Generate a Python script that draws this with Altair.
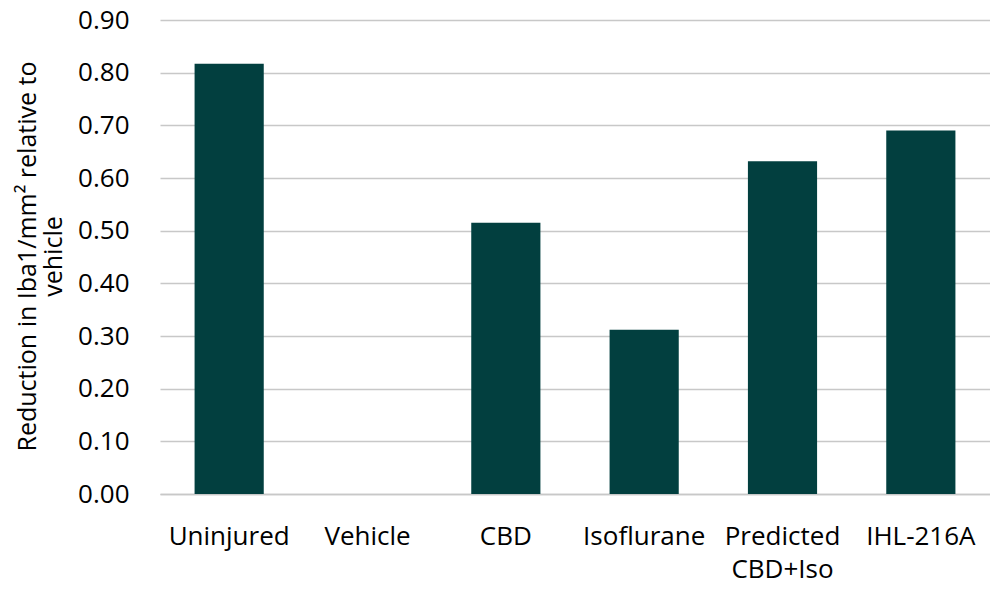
import altair as alt
import pandas as pd

categories = ["Uninjured", "Vehicle", "CBD", "Isoflurane", "Predicted\nCBD+Iso", "IHL-216A"]
values = [0.817, 0.0, 0.515, 0.312, 0.632, 0.690]
y_ticks = [0.0, 0.1, 0.2, 0.3, 0.4, 0.5, 0.6, 0.7, 0.8, 0.9]

df = pd.DataFrame({"cat": categories, "val": values})

FONT = "Open Sans"

chart = alt.Chart(df).mark_bar(color="#023f3f").encode(
    x=alt.X(
        "cat:N",
        sort=categories,
        scale=alt.Scale(paddingInner=0.5, paddingOuter=0.25),
        axis=alt.Axis(
            title=None,
            labelAngle=0,
            labelExpr="split(datum.label, '\\n')",
            labelFont=FONT,
            labelFontSize=26,
            labelColor="#000000",
            labelPadding=29,
            labelLineHeight=33,
            ticks=False,
            domainColor="#c8c8c8",
            domainWidth=1.3,
            grid=False,
        ),
    ),
    y=alt.Y(
        "val:Q",
        scale=alt.Scale(domain=[0, 0.9], nice=False),
        axis=alt.Axis(
            values=y_ticks,
            format=".2f",
            title=["Reduction in Iba1/mm² relative to", "vehicle"],
            titleFont=FONT,
            titleFontSize=25,
            titleFontWeight="normal",
            titleColor="#000000",
            titleLineHeight=26,
            titleBaseline="middle",
            titleX=-133,
            titleY=236,
            labelFont=FONT,
            labelFontSize=26,
            labelColor="#000000",
            labelPadding=31,
            ticks=False,
            domain=False,
            gridColor="#c8c8c8",
            gridWidth=1.3,
        ),
    ),
).properties(
    width=830,
    height=474,
    autosize=alt.AutoSizeParams(type="none"),
    padding={"left": 152, "top": 12, "right": 0, "bottom": 90},
).configure_view(stroke=None)

chart.save("out.html", embed_options={"renderer": "svg", "actions": False})
